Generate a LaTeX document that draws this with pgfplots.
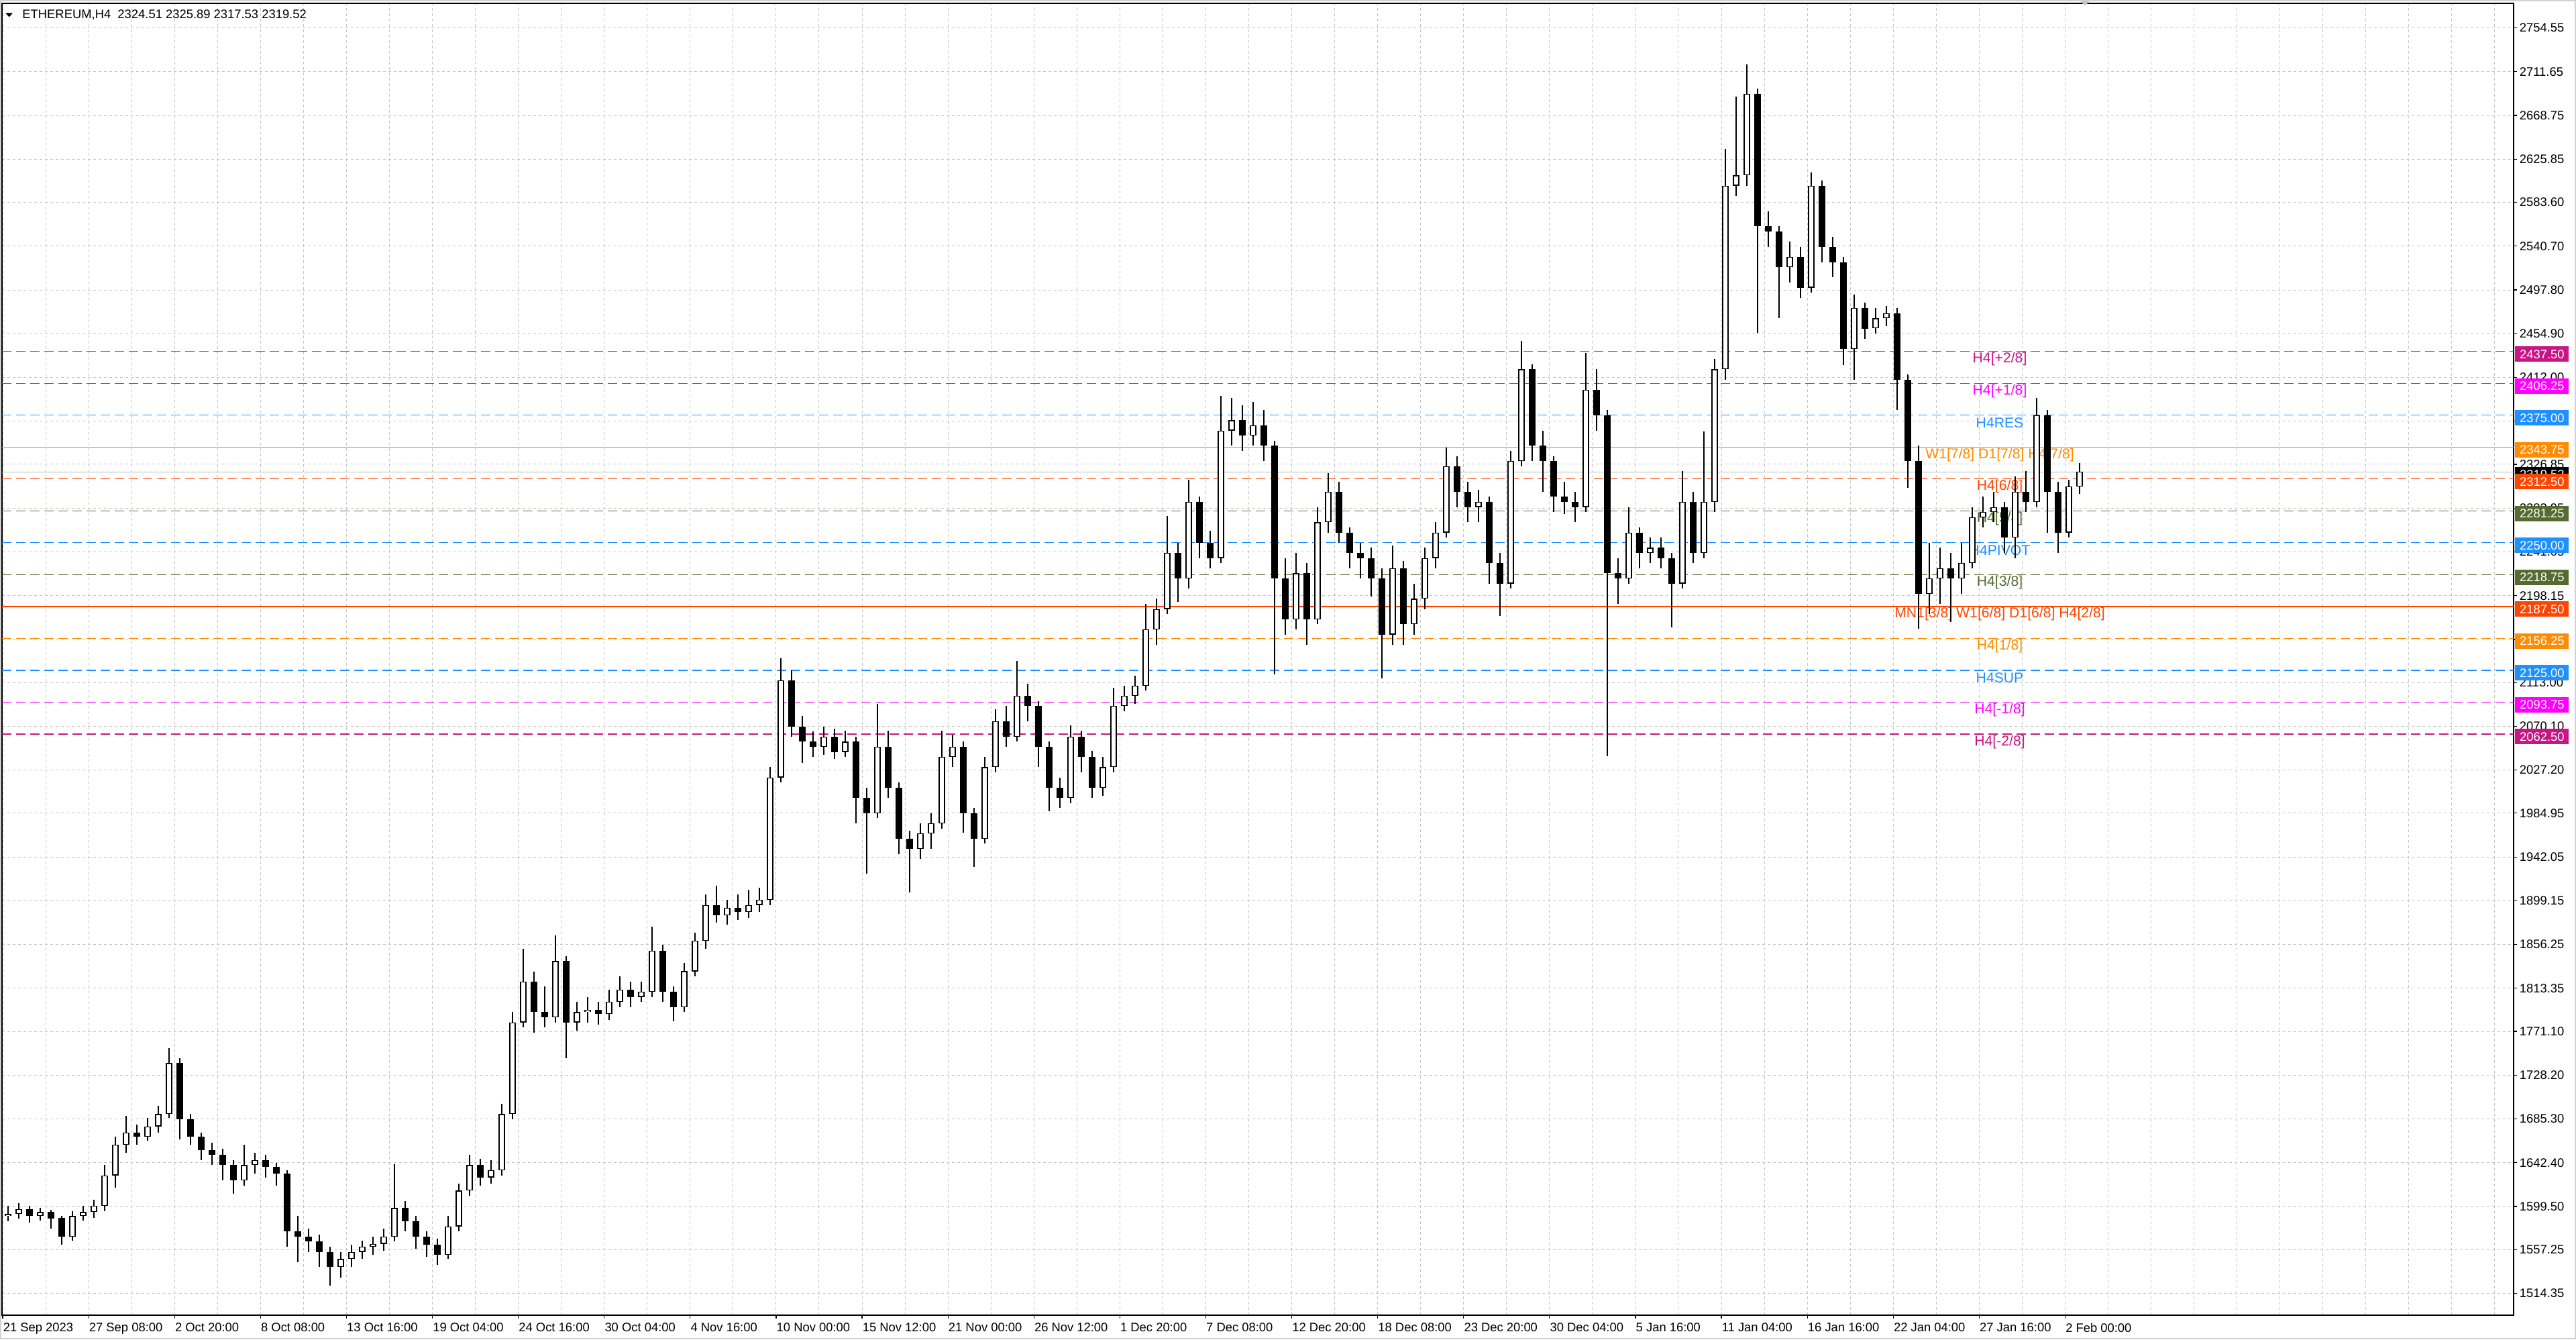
\documentclass[border=0pt]{standalone}
\usepackage{fontspec}
\setmainfont{Liberation Sans}
\usepackage{pgfplots}
\pgfplotsset{compat=1.18}
\usepackage{pgfplotstable}
\definecolor{mvr}{HTML}{C71585}
\definecolor{mag}{HTML}{FF00FF}
\definecolor{dodger}{HTML}{1E90FF}
\definecolor{dorange}{HTML}{FF8C00}
\definecolor{ored}{HTML}{FF4500}
\definecolor{olivec}{HTML}{556B2F}
\definecolor{gridc}{HTML}{C4C4C4}
\definecolor{silverc}{HTML}{B8B8B8}

\pgfplotstableread{
x o h l c
12 1590 1600 1585 1592
28 1592 1603 1588 1597
44 1597 1600 1584 1590
60 1590 1598 1586 1594
76 1594 1596 1578 1588
92 1588 1590 1562 1570
108 1570 1595 1566 1590
124 1590 1600 1586 1594
140 1594 1606 1588 1600
156 1600 1640 1595 1630
172 1630 1668 1618 1660
188 1660 1688 1652 1672
204 1672 1680 1660 1668
220 1668 1686 1664 1678
236 1678 1698 1672 1690
252 1690 1755 1686 1740
268 1740 1745 1665 1685
284 1685 1690 1660 1668
300 1668 1672 1645 1655
316 1655 1662 1640 1650
332 1650 1656 1625 1640
348 1640 1645 1612 1625
364 1625 1660 1620 1640
380 1640 1652 1632 1645
396 1645 1650 1628 1638
412 1638 1642 1620 1632
428 1632 1635 1560 1575
444 1575 1590 1545 1570
460 1570 1578 1555 1565
476 1565 1572 1540 1555
492 1555 1560 1522 1540
508 1540 1555 1530 1548
524 1548 1562 1540 1555
540 1555 1566 1548 1560
556 1560 1570 1552 1563
572 1563 1578 1556 1570
588 1570 1641 1565 1598
604 1598 1605 1575 1585
620 1585 1590 1558 1570
636 1570 1575 1550 1562
652 1562 1568 1542 1552
668 1552 1590 1548 1580
684 1580 1622 1575 1615
700 1615 1650 1610 1640
716 1640 1646 1620 1628
732 1628 1645 1622 1635
748 1635 1700 1630 1690
764 1690 1790 1685 1780
780 1780 1852 1775 1820
796 1820 1830 1770 1790
812 1790 1815 1775 1785
828 1785 1865 1780 1840
844 1840 1845 1745 1780
860 1780 1800 1772 1790
876 1790 1805 1780 1792
892 1792 1800 1778 1788
908 1788 1812 1782 1800
924 1800 1825 1795 1812
940 1812 1820 1795 1805
956 1805 1820 1800 1810
972 1810 1874 1805 1850
988 1850 1856 1800 1810
1004 1810 1815 1781 1795
1020 1795 1838 1790 1830
1036 1830 1868 1825 1860
1052 1860 1905 1852 1895
1068 1895 1914 1878 1885
1084 1885 1900 1876 1892
1100 1892 1905 1880 1888
1116 1888 1910 1882 1895
1132 1895 1912 1888 1900
1148 1900 2030 1895 2020
1164 2020 2137 2015 2115
1180 2115 2125 2060 2070
1196 2070 2080 2034 2055
1212 2055 2065 2040 2050
1228 2050 2070 2042 2060
1244 2060 2068 2038 2045
1260 2045 2066 2040 2055
1276 2055 2060 1975 2000
1292 2000 2010 1926 1985
1308 1985 2092 1980 2050
1324 2050 2066 2000 2010
1340 2010 2015 1945 1960
1356 1960 1968 1907 1950
1372 1950 1975 1940 1965
1388 1965 1985 1950 1975
1404 1975 2066 1970 2040
1420 2040 2062 2030 2050
1436 2050 2055 1966 1985
1452 1985 1990 1932 1960
1468 1960 2040 1955 2030
1484 2030 2087 2025 2075
1500 2075 2090 2050 2060
1516 2060 2134 2055 2100
1532 2100 2112 2075 2090
1548 2090 2095 2030 2050
1564 2050 2055 1987 2010
1580 2010 2020 1990 2000
1596 2000 2071 1995 2060
1612 2060 2066 2025 2040
1628 2040 2046 2000 2010
1644 2010 2040 2002 2030
1660 2030 2108 2025 2090
1676 2090 2110 2085 2100
1692 2100 2120 2092 2110
1708 2110 2190 2105 2165
1724 2165 2195 2150 2185
1740 2185 2276 2180 2240
1756 2240 2250 2192 2215
1772 2215 2312 2205 2290
1788 2290 2295 2235 2250
1804 2250 2262 2225 2235
1820 2235 2394 2230 2360
1836 2360 2392 2345 2370
1852 2370 2385 2340 2355
1868 2355 2388 2345 2365
1884 2365 2380 2330 2345
1900 2345 2350 2121 2215
1916 2215 2235 2160 2175
1932 2175 2240 2165 2220
1948 2220 2230 2150 2175
1964 2175 2285 2170 2270
1980 2270 2318 2260 2300
1996 2300 2310 2250 2260
2012 2260 2265 2225 2240
2028 2240 2250 2215 2235
2044 2235 2245 2197 2215
2060 2215 2225 2117 2160
2076 2160 2247 2150 2225
2092 2225 2232 2150 2170
2108 2170 2210 2160 2195
2124 2195 2245 2185 2235
2140 2235 2270 2225 2260
2156 2260 2343 2255 2325
2172 2325 2335 2285 2300
2188 2300 2310 2270 2285
2204 2285 2302 2270 2290
2220 2290 2295 2210 2230
2236 2230 2240 2178 2210
2252 2210 2340 2205 2330
2268 2330 2448 2325 2420
2284 2420 2425 2330 2345
2300 2345 2360 2300 2330
2316 2330 2335 2280 2295
2332 2295 2310 2278 2290
2348 2290 2300 2270 2285
2364 2285 2436 2280 2400
2380 2400 2420 2360 2375
2396 2375 2380 2041 2220
2412 2220 2235 2190 2215
2428 2215 2285 2210 2260
2444 2260 2265 2225 2240
2460 2240 2255 2230 2245
2476 2245 2255 2225 2235
2492 2235 2240 2167 2210
2508 2210 2320 2205 2290
2524 2290 2300 2230 2240
2540 2240 2359 2235 2290
2556 2290 2430 2280 2420
2572 2420 2636 2410 2600
2588 2600 2687 2590 2610
2604 2610 2719 2600 2690
2620 2690 2695 2456 2560
2636 2560 2575 2540 2555
2652 2555 2560 2470 2520
2668 2520 2545 2505 2530
2684 2530 2540 2490 2500
2700 2500 2613 2495 2600
2716 2600 2605 2525 2540
2732 2540 2550 2510 2525
2748 2525 2530 2424 2440
2764 2440 2493 2410 2480
2780 2480 2485 2450 2460
2796 2460 2480 2455 2470
2812 2470 2482 2462 2475
2828 2475 2480 2380 2410
2844 2410 2415 2304 2330
2860 2330 2345 2166 2200
2876 2200 2250 2180 2215
2892 2215 2245 2190 2225
2908 2225 2240 2172 2215
2924 2215 2250 2200 2230
2940 2230 2285 2225 2275
2956 2275 2295 2265 2280
2972 2280 2300 2270 2285
2988 2285 2290 2240 2255
3004 2255 2315 2235 2300
3020 2300 2320 2280 2290
3036 2290 2392 2285 2375
3052 2375 2380 2260 2300
3068 2300 2310 2240 2260
3084 2260 2312 2255 2305
3100 2305 2328 2298 2319.52
}\candles

\newcommand\lvl[3]{\addplot[#2, line width=0.3pt, #3, forget plot] coordinates {(3,#1) (3747,#1)};}
\newcommand\lvltxt[3]{\node[text=#2, font=\fontsize{5.3}{6.3}\selectfont, inner sep=0pt, yshift=-2.9pt] at (axis cs:2981,#1) {#3};}

\begin{document}
\begin{tikzpicture}
\begin{axis}[
  name=main,
  scale only axis, width=936pt, height=488.75pt,
  xmin=3, xmax=3747, ymin=1492.95, ymax=2778.62,
  axis line style={black, line width=0.35pt},
  tick align=outside,
  major tick length=1.2pt, minor tick length=0pt,
  tick style={black, line width=0.3pt},
  xtick pos=left, ytick pos=right,
  yticklabel pos=right,
  xtick={4,132.1,260.2,388.3,516.4,644.5,772.6,900.7,1028.8,1156.9,1285,1413.1,1541.2,1669.3,1797.4,1925.5,2053.6,2181.7,2309.8,2437.9,2566,2694.1,2822.2,2950.3,3078.4},
  xticklabels={21 Sep 2023,27 Sep 08:00,2 Oct 20:00,8 Oct 08:00,13 Oct 16:00,19 Oct 04:00,24 Oct 16:00,30 Oct 04:00,4 Nov 16:00,10 Nov 00:00,15 Nov 12:00,21 Nov 00:00,26 Nov 12:00,1 Dec 20:00,7 Dec 08:00,12 Dec 20:00,18 Dec 08:00,23 Dec 20:00,30 Dec 04:00,5 Jan 16:00,11 Jan 04:00,16 Jan 16:00,22 Jan 04:00,27 Jan 16:00,2 Feb 00:00},
  minor xtick={68.05,196.15,324.25,452.35,580.45,708.55,836.65,964.75,1092.85,1220.95,1349.05,1477.15,1605.25,1733.35,1861.45,1989.55,2117.65,2245.75,2373.85,2501.95,2630.05,2758.15,2886.25,3014.35,3142.45,3206.5,3270.55,3334.6,3398.65,3462.7,3526.75,3590.8,3654.85,3718.9},
  ytick={1514.35,1557.25,1599.50,1642.40,1685.30,1728.20,1771.10,1813.35,1856.25,1899.15,1942.05,1984.95,2027.20,2070.10,2113.00,2155.25,2198.15,2241.05,2283.95,2326.85,2369.10,2412.00,2454.90,2497.80,2540.70,2583.60,2625.85,2668.75,2711.65,2754.55},
  yticklabels={1514.35,1557.25,1599.50,1642.40,1685.30,1728.20,1771.10,1813.35,1856.25,1899.15,1942.05,1984.95,2027.20,2070.10,2113.00,2155.25,2198.15,2241.05,2283.95,2326.85,2369.10,2412.00,2454.90,2497.80,2540.70,2583.60,2625.85,2668.75,2711.65,2754.55},
  xmajorgrids, xminorgrids, ymajorgrids,
  major grid style={gridc, line width=0.25pt, dash pattern=on 1pt off 1pt},
  minor grid style={gridc, line width=0.25pt, dash pattern=on 1pt off 1pt},
  xticklabel style={anchor=north west, inner sep=0pt, font=\fontsize{4.6}{5.5}\selectfont, yshift=-1.6pt},
  yticklabel style={anchor=west, inner sep=0pt, font=\fontsize{4.6}{5.5}\selectfont, xshift=0.8pt},
]
% levels
\lvl{2437.5}{mvr}{dash pattern=on 3.5pt off 1.75pt}
\lvl{2406.25}{mag}{dash pattern=on 3.5pt off 1.75pt}
\lvl{2375}{dodger}{dash pattern=on 3.5pt off 1.75pt}
\lvl{2343.75}{dorange}{}
\lvl{2319.52}{silverc}{}
\lvl{2312.5}{ored}{dash pattern=on 3.5pt off 1.75pt}
\lvl{2281.25}{olivec}{dash pattern=on 3.5pt off 1.75pt}
\lvl{2250}{dodger}{dash pattern=on 3.5pt off 1.75pt}
\lvl{2218.75}{olivec}{dash pattern=on 3.5pt off 1.75pt}
\addplot[ored, line width=0.55pt, forget plot] coordinates {(3,2187.5) (3747,2187.5)};
\lvl{2156.25}{dorange}{dash pattern=on 3.5pt off 1.75pt}
\lvl{2125}{dodger}{dash pattern=on 3.5pt off 1.75pt}
\lvl{2093.75}{mag}{dash pattern=on 3.5pt off 1.75pt}
\lvl{2062.5}{mvr}{dash pattern=on 3.5pt off 1.75pt}
% level labels
\lvltxt{2437.5}{mvr}{H4[+2/8]}
\lvltxt{2406.25}{mag}{H4[+1/8]}
\lvltxt{2375}{dodger}{H4RES}
\lvltxt{2343.75}{dorange}{W1[7/8] D1[7/8] H4[7/8]}
\lvltxt{2312.5}{ored}{H4[6/8]}
\lvltxt{2281.25}{olivec}{H4[5/8]}
\lvltxt{2250}{dodger}{H4PIVOT}
\lvltxt{2218.75}{olivec}{H4[3/8]}
\lvltxt{2187.5}{ored}{MN1[3/8] W1[6/8] D1[6/8] H4[2/8]}
\lvltxt{2156.25}{dorange}{H4[1/8]}
\lvltxt{2125}{dodger}{H4SUP}
\lvltxt{2093.75}{mag}{H4[-1/8]}
\lvltxt{2062.5}{mvr}{H4[-2/8]}
% candles: wicks
\addplot[draw=none, mark=none, forget plot,
  error bars/.cd, y dir=both, y explicit, error mark=none,
  error bar style={draw=black, line width=0.3pt}]
  table[x=x, y expr={(\thisrow{h}+\thisrow{l})/2}, y error expr={(\thisrow{h}-\thisrow{l})/2}] {\candles};
% bodies
\addplot[draw=none, mark=none, forget plot,
  error bars/.cd, y dir=both, y explicit, error mark=none,
  error bar style={draw=black, line width=2.3pt}]
  table[x=x, y expr={(\thisrow{o}+\thisrow{c})/2}, y error expr={max(abs(\thisrow{c}-\thisrow{o})/2,0.7)}] {\candles};
% hollow bullish
\addplot[draw=none, mark=none, forget plot,
  error bars/.cd, y dir=both, y explicit, error mark=none,
  error bar style={draw=white, line width=1.7pt}]
  table[x=x, y expr={(\thisrow{o}+\thisrow{c})/2}, y error expr={(\thisrow{c}>\thisrow{o}) ? max((\thisrow{c}-\thisrow{o})/2-0.8,0) : 0}] {\candles};
% anchors for price boxes
\coordinate (q1) at (axis cs:3747,2437.5);
\coordinate (q2) at (axis cs:3747,2406.25);
\coordinate (q3) at (axis cs:3747,2375);
\coordinate (q4) at (axis cs:3747,2343.75);
\coordinate (q0) at (axis cs:3747,2319.52);
\coordinate (q5) at (axis cs:3747,2312.5);
\coordinate (q6) at (axis cs:3747,2281.25);
\coordinate (q7) at (axis cs:3747,2250);
\coordinate (q8) at (axis cs:3747,2218.75);
\coordinate (q9) at (axis cs:3747,2187.5);
\coordinate (q10) at (axis cs:3747,2156.25);
\coordinate (q11) at (axis cs:3747,2125);
\coordinate (q12) at (axis cs:3747,2093.75);
\coordinate (q13) at (axis cs:3747,2062.5);
\coordinate (shm) at (axis cs:3108,2778.62);
\end{axis}
% price boxes
\foreach \n/\col/\txt in {q1/mvr/2437.50,q2/mag/2406.25,q3/dodger/2375.00,q4/dorange/2343.75,q0/black/2319.52,q5/ored/2312.50,q6/olivec/2281.25,q7/dodger/2250.00,q8/olivec/2218.75,q9/ored/2187.50,q10/dorange/2156.25,q11/dodger/2125.00,q12/mag/2093.75,q13/mvr/2062.50}
  \node[fill=\col, text=white, anchor=west, inner sep=0pt, minimum width=20pt, minimum height=5.75pt, font=\fontsize{4.6}{5.5}\selectfont, xshift=0.4pt, yshift=-1pt] at (\n) {\txt};
% header
\fill[black] ([xshift=1.3pt,yshift=-3.6pt]main.north west) -- ++(2.7pt,0) -- ++(-1.35pt,-1.5pt) -- cycle;
\node[anchor=west, inner sep=0pt, font=\fontsize{4.6}{5.5}\selectfont] at ([xshift=7.4pt,yshift=-4.4pt]main.north west) {ETHEREUM,H4\ \ 2324.51 2325.89 2317.53 2319.52};
\fill[gray!45] ([xshift=-2.2pt,yshift=1.2pt]shm) -- ++(4.4pt,0) -- ++(-2.2pt,-2pt) -- cycle;
% page
\coordinate (PSW) at ([xshift=-0.75pt,yshift=-9pt]main.south west);
\coordinate (PNE) at ([xshift=960pt,yshift=499pt]PSW);
\draw[gray!35, line width=0.5pt] ([shift={(0.25pt,0.25pt)}]PSW) rectangle ([shift={(-0.25pt,-0.25pt)}]PNE);
\pgfresetboundingbox
\path[use as bounding box] (PSW) rectangle (PNE);
\end{tikzpicture}
\end{document}
